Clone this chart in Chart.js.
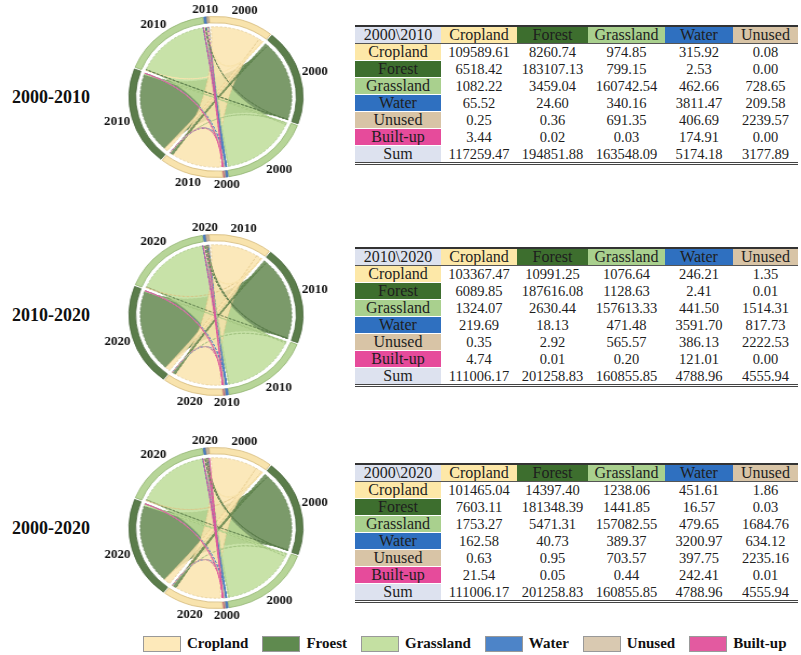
<!DOCTYPE html>
<html>
<head>
<meta charset="utf-8">
<script src="https://cdn.jsdelivr.net/npm/chart.js@4.4.1/dist/chart.umd.min.js"></script>
<style>
body { margin:0; width:801px; height:655px; position:relative; overflow:hidden; background:#fff; font-family:"Liberation Serif", "Times New Roman", serif; }
.period { position:absolute; left:12px; font-weight:bold; font-size:18px; line-height:20px; color:#111; }
.chord { position:absolute; left:101px; width:230px; height:200px; transform:scaleX(1.08); transform-origin:50% 50%; }
table.tm { position:absolute; left:355px; width:443px; border-collapse:collapse; table-layout:fixed; border-top:2px solid #333; border-bottom:3px double #444; color:#1e1e1e; }
table.tm td { height:16px; line-height:16px; padding:0; text-align:center; font-size:14.5px; white-space:nowrap; overflow:hidden; }
table.tm td.lab { font-size:16px; border-bottom:1px solid #fff; }
table.tm tr.head td { font-size:16px; border-bottom:1px solid #555; }
#legend { position:absolute; left:143px; top:635px; display:flex; align-items:center; }
#legend .item { display:flex; align-items:center; margin-right:14px; }
#legend .box { width:36px; height:14px; border:1px solid #999; }
#legend span { margin-left:6px; font-weight:bold; font-size:15px; color:#111; }
</style>
</head>
<body>
<div id="legend"></div>
<script>
const classes = ['Cropland', 'Forest', 'Grassland', 'Water', 'Unused', 'Built-up']
const toClasses = ['Cropland', 'Forest', 'Grassland', 'Water', 'Unused']
const legendLabels = ['Cropland', 'Froest', 'Grassland', 'Water', 'Unused', 'Built-up']
const periods = ['2000-2010', '2010-2020', '2000-2020']
const fromYears = ['2000', '2010', '2000']
const toYears = ['2010', '2020', '2020']
const corner = ['2000\\2010', '2010\\2020', '2000\\2020']

// transfer matrices (rows: from class, cols: to class)
const m2000_2010 = [
    [109589.61, 8260.74, 974.85, 315.92, 0.08],
    [6518.42, 183107.13, 799.15, 2.53, 0.00],
    [1082.22, 3459.04, 160742.54, 462.66, 728.65],
    [65.52, 24.60, 340.16, 3811.47, 209.58],
    [0.25, 0.36, 691.35, 406.69, 2239.57],
    [3.44, 0.02, 0.03, 174.91, 0.00]
]
const sum2000_2010 = [117259.47, 194851.88, 163548.09, 5174.18, 3177.89]

const m2010_2020 = [
    [103367.47, 10991.25, 1076.64, 246.21, 1.35],
    [6089.85, 187616.08, 1128.63, 2.41, 0.01],
    [1324.07, 2630.44, 157613.33, 441.50, 1514.31],
    [219.69, 18.13, 471.48, 3591.70, 817.73],
    [0.35, 2.92, 565.57, 386.13, 2222.53],
    [4.74, 0.01, 0.20, 121.01, 0.00]
]
const sum2010_2020 = [111006.17, 201258.83, 160855.85, 4788.96, 4555.94]

const m2000_2020 = [
    [101465.04, 14397.40, 1238.06, 451.61, 1.86],
    [7603.11, 181348.39, 1441.85, 16.57, 0.03],
    [1753.27, 5471.31, 157082.55, 479.65, 1684.76],
    [162.58, 40.73, 389.37, 3200.97, 634.12],
    [0.63, 0.95, 703.57, 397.75, 2235.16],
    [21.54, 0.05, 0.44, 242.41, 0.01]
]
const sum2000_2020 = [111006.17, 201258.83, 160855.85, 4788.96, 4555.94]

const matrices = [m2000_2010, m2010_2020, m2000_2020]
const sums = [sum2000_2010, sum2010_2020, sum2000_2020]

// colours
const bandColors = ['#f8e3ad', '#5b7d4b', '#b7d598', '#4a7fc4', '#cfbca3', '#e0559c']
const bandEdges = ['#d4b978', '#4b6a3d', '#8fb26f', '#3a69a8', '#a8937a', '#c23f80']
const ribbonColors = ['rgba(250,228,174,0.85)', 'rgba(100,136,80,0.85)', 'rgba(190,221,153,0.85)',
    'rgba(60,110,190,0.9)', 'rgba(190,170,145,0.9)', 'rgba(220,70,150,0.9)']
const headColors = ['#fde8a8', '#3d6e2e', '#a9d08e', '#2f70c0', '#d8c4a6', '#e64b9b']
const legendColors = ['#fde9ba', '#5f8a4f', '#c4e0a2', '#4d84c8', '#d9c9b1', '#e35aa0']
const cornerColor = '#dde2ef'

const centersY = [97, 315, 528]
const tableTops = [25, 247, 463]
const colWidths = [86, 76, 71, 77, 68, 65]
const stretch = 1.08

const chordPlugin = {
    id: 'chords',
    afterDatasetsDraw(chart, args, opts) {
        const arcs = chart.getDatasetMeta(0).data
        const ctx = chart.ctx
        const m = opts.matrix
        const nFrom = m.length, nTo = m[0].length
        const cx = arcs[0].x, cy = arcs[0].y
        const R = arcs[0].outerRadius
        const r = arcs[0].innerRadius - 2.5
        const pad = 1.6 / r

        function subArcs(el, vals) {
            let tot = vals.reduce((a, b) => a + b, 0)
            let a = el.startAngle + pad
            let span = el.endAngle - el.startAngle - 2 * pad
            if (span < 0.002) {
                a = el.startAngle
                span = el.endAngle - el.startAngle
            }
            return vals.map(v => {
                const s = a
                a += tot > 0 ? span * v / tot : 0
                return [s, a]
            })
        }

        const src = m.map((row, i) => subArcs(arcs[i], row))
        const dst = []
        for (let j = 0; j < nTo; j++) {
            dst.push(subArcs(arcs[nFrom + j], m.map(row => row[j])))
        }

        const list = []
        for (let i = 0; i < nFrom; i++) {
            for (let j = 0; j < nTo; j++) {
                if (m[i][j] > 0) list.push({ v: m[i][j], i: i, s: src[i][j], t: dst[j][i] })
            }
        }
        list.sort((a, b) => b.v - a.v)

        ctx.save()
        for (const rb of list) {
            const [s0, s1] = rb.s
            const [t0, t1] = rb.t
            ctx.beginPath()
            ctx.moveTo(cx + r * Math.cos(s0), cy + r * Math.sin(s0))
            ctx.arc(cx, cy, r, s0, s1)
            ctx.quadraticCurveTo(cx, cy, cx + r * Math.cos(t0), cy + r * Math.sin(t0))
            ctx.arc(cx, cy, r, t0, t1)
            ctx.quadraticCurveTo(cx, cy, cx + r * Math.cos(s0), cy + r * Math.sin(s0))
            ctx.closePath()
            ctx.fillStyle = ribbonColors[rb.i]
            ctx.fill()
            ctx.setLineDash([2.5, 1.5])
            ctx.lineWidth = rb.v < 1000 ? 1 : 0.5
            ctx.strokeStyle = rb.v < 1000 ? bandColors[rb.i] : bandEdges[rb.i]
            ctx.stroke()
        }
        ctx.setLineDash([])

        // year labels round the circle
        const groups = [
            [0, 0, opts.fromYear], [1, 1, opts.fromYear], [2, 2, opts.fromYear], [3, nFrom - 1, opts.fromYear],
            [nFrom, nFrom, opts.toYear], [nFrom + 1, nFrom + 1, opts.toYear], [nFrom + 2, nFrom + 2, opts.toYear],
            [nFrom + 3, nFrom + nTo - 1, opts.toYear]
        ]
        ctx.font = 'bold 13px "Liberation Serif", serif'
        ctx.fillStyle = '#111'
        ctx.textAlign = 'center'
        ctx.textBaseline = 'middle'
        for (const [a, b, txt] of groups) {
            const ang = (arcs[a].startAngle + arcs[b].endAngle) / 2
            const tw = ctx.measureText(txt).width / stretch
            const c = Math.cos(ang), s = Math.sin(ang)
            const d = R + 3 + Math.abs(c) * tw / 2 + Math.abs(s) * 4.5
            ctx.save()
            ctx.translate(cx + d * c, cy + d * s)
            ctx.scale(1 / stretch, 1)
            ctx.fillText(txt, 0, 0)
            ctx.restore()
        }
        ctx.restore()
    }
}

function buildTable(k) {
    const m = matrices[k]
    const t = document.createElement('table')
    t.className = 'tm'
    t.style.top = tableTops[k] + 'px'
    const cg = document.createElement('colgroup')
    colWidths.forEach(w => {
        const c = document.createElement('col')
        c.style.width = w + 'px'
        cg.appendChild(c)
    })
    t.appendChild(cg)

    const head = document.createElement('tr')
    head.className = 'head'
    const c0 = document.createElement('td')
    c0.textContent = corner[k]
    c0.style.background = cornerColor
    head.appendChild(c0)
    toClasses.forEach((name, j) => {
        const td = document.createElement('td')
        td.textContent = name
        td.style.background = headColors[j]
        head.appendChild(td)
    })
    t.appendChild(head)

    m.forEach((row, i) => {
        const tr = document.createElement('tr')
        const lab = document.createElement('td')
        lab.className = 'lab'
        lab.textContent = classes[i]
        lab.style.background = headColors[i]
        tr.appendChild(lab)
        row.forEach(v => {
            const td = document.createElement('td')
            td.textContent = v.toFixed(2)
            tr.appendChild(td)
        })
        t.appendChild(tr)
    })

    const sr = document.createElement('tr')
    const sl = document.createElement('td')
    sl.className = 'lab'
    sl.textContent = 'Sum'
    sl.style.background = cornerColor
    sr.appendChild(sl)
    sums[k].forEach(v => {
        const td = document.createElement('td')
        td.textContent = v.toFixed(2)
        sr.appendChild(td)
    })
    t.appendChild(sr)
    document.body.appendChild(t)
}

function buildChord(k) {
    const m = matrices[k]
    const lab = document.createElement('div')
    lab.className = 'period'
    lab.textContent = periods[k]
    lab.style.top = (centersY[k] - 10) + 'px'
    document.body.appendChild(lab)

    const box = document.createElement('div')
    box.className = 'chord'
    box.style.top = (centersY[k] - 100) + 'px'
    const cv = document.createElement('canvas')
    box.appendChild(cv)
    document.body.appendChild(box)

    const fromTotals = m.map(row => row.reduce((a, b) => a + b, 0))
    const values = fromTotals.concat(sums[k])
    const colors = bandColors.concat(bandColors.slice(0, toClasses.length))
    const edges = bandEdges.concat(bandEdges.slice(0, toClasses.length))

    new Chart(cv, {
        type: 'doughnut',
        data: {
            labels: classes.map(c => fromYears[k] + ' ' + c).concat(toClasses.map(c => toYears[k] + ' ' + c)),
            datasets: [{
                data: values,
                backgroundColor: colors,
                borderColor: edges,
                borderWidth: 0.8,
                spacing: 3
            }]
        },
        options: {
            responsive: true,
            maintainAspectRatio: false,
            animation: false,
            rotation: -5,
            cutout: '92%',
            layout: { padding: 19 },
            plugins: {
                legend: { display: false },
                tooltip: { enabled: false },
                chords: { matrix: m, fromYear: fromYears[k], toYear: toYears[k] }
            }
        },
        plugins: [chordPlugin]
    })
}

for (let k = 0; k < 3; k++) {
    buildChord(k)
    buildTable(k)
}

const legend = document.getElementById('legend')
legendLabels.forEach((name, i) => {
    const it = document.createElement('div')
    it.className = 'item'
    const b = document.createElement('div')
    b.className = 'box'
    b.style.background = legendColors[i]
    const s = document.createElement('span')
    s.textContent = name
    it.appendChild(b)
    it.appendChild(s)
    legend.appendChild(it)
})
</script>
</body>
</html>
